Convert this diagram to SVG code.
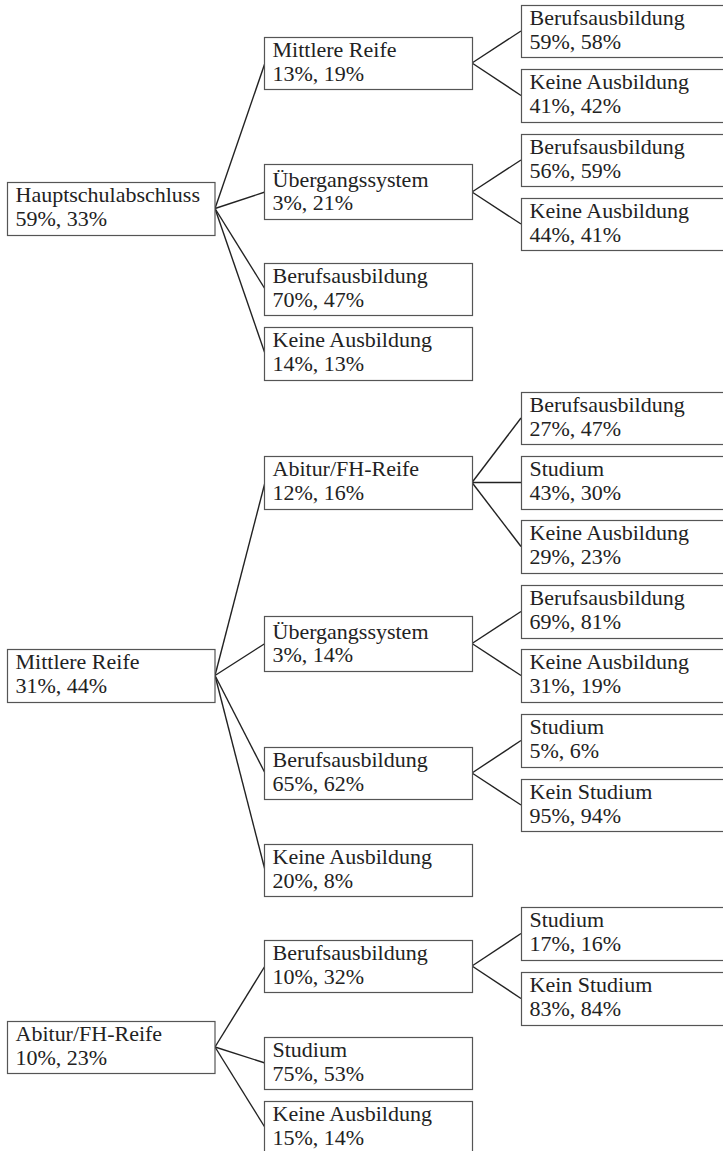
<svg xmlns="http://www.w3.org/2000/svg" width="723" height="1151" viewBox="0 0 723 1151">
<style>
  .box { fill: #ffffff; stroke: #555555; stroke-width: 1.2; }
  .t { font-family: "Liberation Serif", "Times New Roman", serif; font-size: 20px; fill: #222222; }
  .conn line { stroke: #222222; stroke-width: 1.4; }
</style>
<rect x="0" y="0" width="723" height="1151" fill="#ffffff"/>
<g id="connectors" class="conn">
  <!-- Section 1 -->
  <line x1="215" y1="208.5" x2="265" y2="63"/>
  <line x1="215" y1="208.5" x2="265" y2="192"/>
  <line x1="215" y1="208.5" x2="265" y2="289"/>
  <line x1="215" y1="208.5" x2="265" y2="353.5"/>
  <line x1="472" y1="63" x2="521" y2="31"/>
  <line x1="472" y1="63" x2="521" y2="95.5"/>
  <line x1="472" y1="192" x2="521" y2="160"/>
  <line x1="472" y1="192" x2="521" y2="224"/>
  <!-- Section 2 -->
  <line x1="215" y1="675.5" x2="265" y2="482.5"/>
  <line x1="215" y1="675.5" x2="265" y2="643.5"/>
  <line x1="215" y1="675.5" x2="265" y2="773"/>
  <line x1="215" y1="675.5" x2="265" y2="870"/>
  <line x1="472" y1="482.5" x2="521" y2="418"/>
  <line x1="472" y1="482.5" x2="521" y2="482.5"/>
  <line x1="472" y1="482.5" x2="521" y2="546.5"/>
  <line x1="472" y1="643.5" x2="521" y2="611.5"/>
  <line x1="472" y1="643.5" x2="521" y2="675.5"/>
  <line x1="472" y1="773" x2="521" y2="740.5"/>
  <line x1="472" y1="773" x2="521" y2="805"/>
  <!-- Section 3 -->
  <line x1="215" y1="1047" x2="265" y2="966"/>
  <line x1="215" y1="1047" x2="265" y2="1063"/>
  <line x1="215" y1="1047" x2="265" y2="1127.5"/>
  <line x1="472" y1="966" x2="521" y2="933.5"/>
  <line x1="472" y1="966" x2="521" y2="998.5"/>
</g>

<!-- Section 1 -->
<g id="hauptschulabschluss" transform="translate(7.5,182.5)">
  <rect class="box" x="0" y="0" width="207.5" height="53"/>
  <text class="t" transform="scale(1.1 1)"><tspan x="7.3" y="20">Hauptschulabschluss</tspan><tspan x="7.3" y="44">59%, 33%</tspan></text>
</g>
<g id="hs-mittlere-reife" transform="translate(264.5,37.5)">
  <rect class="box" x="0" y="0" width="208" height="52"/>
  <text class="t" transform="scale(1.1 1)"><tspan x="7.3" y="20">Mittlere Reife</tspan><tspan x="7.3" y="44">13%, 19%</tspan></text>
</g>
<g id="hs-mr-berufsausbildung" transform="translate(521.5,5.5)">
  <rect class="box" x="0" y="0" width="215" height="52"/>
  <text class="t" transform="scale(1.1 1)"><tspan x="7.3" y="20">Berufsausbildung</tspan><tspan x="7.3" y="44">59%, 58%</tspan></text>
</g>
<g id="hs-mr-keine-ausbildung" transform="translate(521.5,69.5)">
  <rect class="box" x="0" y="0" width="215" height="53"/>
  <text class="t" transform="scale(1.1 1)"><tspan x="7.3" y="20">Keine Ausbildung</tspan><tspan x="7.3" y="44">41%, 42%</tspan></text>
</g>
<g id="hs-uebergangssystem" transform="translate(264.5,164.5)">
  <rect class="box" x="0" y="0" width="208" height="55"/>
  <text class="t" transform="scale(1.1 1)"><tspan x="7.3" y="23">Übergangssystem</tspan><tspan x="7.3" y="46">3%, 21%</tspan></text>
</g>
<g id="hs-ue-berufsausbildung" transform="translate(521.5,134.5)">
  <rect class="box" x="0" y="0" width="215" height="52"/>
  <text class="t" transform="scale(1.1 1)"><tspan x="7.3" y="20">Berufsausbildung</tspan><tspan x="7.3" y="44">56%, 59%</tspan></text>
</g>
<g id="hs-ue-keine-ausbildung" transform="translate(521.5,198.5)">
  <rect class="box" x="0" y="0" width="215" height="52"/>
  <text class="t" transform="scale(1.1 1)"><tspan x="7.3" y="20">Keine Ausbildung</tspan><tspan x="7.3" y="44">44%, 41%</tspan></text>
</g>
<g id="hs-berufsausbildung" transform="translate(264.5,263.5)">
  <rect class="box" x="0" y="0" width="208" height="52"/>
  <text class="t" transform="scale(1.1 1)"><tspan x="7.3" y="20">Berufsausbildung</tspan><tspan x="7.3" y="44">70%, 47%</tspan></text>
</g>
<g id="hs-keine-ausbildung" transform="translate(264.5,327.5)">
  <rect class="box" x="0" y="0" width="208" height="53"/>
  <text class="t" transform="scale(1.1 1)"><tspan x="7.3" y="20">Keine Ausbildung</tspan><tspan x="7.3" y="44">14%, 13%</tspan></text>
</g>

<!-- Section 2 -->
<g id="mittlere-reife" transform="translate(7.5,649.5)">
  <rect class="box" x="0" y="0" width="207.5" height="53"/>
  <text class="t" transform="scale(1.1 1)"><tspan x="7.3" y="20">Mittlere Reife</tspan><tspan x="7.3" y="44">31%, 44%</tspan></text>
</g>
<g id="mr-abitur" transform="translate(264.5,456.5)">
  <rect class="box" x="0" y="0" width="208" height="53"/>
  <text class="t" transform="scale(1.1 1)"><tspan x="7.3" y="20">Abitur/FH-Reife</tspan><tspan x="7.3" y="44">12%, 16%</tspan></text>
</g>
<g id="mr-ab-berufsausbildung" transform="translate(521.5,392.5)">
  <rect class="box" x="0" y="0" width="215" height="52"/>
  <text class="t" transform="scale(1.1 1)"><tspan x="7.3" y="20">Berufsausbildung</tspan><tspan x="7.3" y="44">27%, 47%</tspan></text>
</g>
<g id="mr-ab-studium" transform="translate(521.5,456.5)">
  <rect class="box" x="0" y="0" width="215" height="53"/>
  <text class="t" transform="scale(1.1 1)"><tspan x="7.3" y="20">Studium</tspan><tspan x="7.3" y="44">43%, 30%</tspan></text>
</g>
<g id="mr-ab-keine-ausbildung" transform="translate(521.5,520.5)">
  <rect class="box" x="0" y="0" width="215" height="53"/>
  <text class="t" transform="scale(1.1 1)"><tspan x="7.3" y="20">Keine Ausbildung</tspan><tspan x="7.3" y="44">29%, 23%</tspan></text>
</g>
<g id="mr-uebergangssystem" transform="translate(264.5,616.5)">
  <rect class="box" x="0" y="0" width="208" height="55"/>
  <text class="t" transform="scale(1.1 1)"><tspan x="7.3" y="23">Übergangssystem</tspan><tspan x="7.3" y="46">3%, 14%</tspan></text>
</g>
<g id="mr-ue-berufsausbildung" transform="translate(521.5,585.5)">
  <rect class="box" x="0" y="0" width="215" height="53"/>
  <text class="t" transform="scale(1.1 1)"><tspan x="7.3" y="20">Berufsausbildung</tspan><tspan x="7.3" y="44">69%, 81%</tspan></text>
</g>
<g id="mr-ue-keine-ausbildung" transform="translate(521.5,649.5)">
  <rect class="box" x="0" y="0" width="215" height="53"/>
  <text class="t" transform="scale(1.1 1)"><tspan x="7.3" y="20">Keine Ausbildung</tspan><tspan x="7.3" y="44">31%, 19%</tspan></text>
</g>
<g id="mr-berufsausbildung" transform="translate(264.5,747.5)">
  <rect class="box" x="0" y="0" width="208" height="52"/>
  <text class="t" transform="scale(1.1 1)"><tspan x="7.3" y="20">Berufsausbildung</tspan><tspan x="7.3" y="44">65%, 62%</tspan></text>
</g>
<g id="mr-ba-studium" transform="translate(521.5,714.5)">
  <rect class="box" x="0" y="0" width="215" height="53"/>
  <text class="t" transform="scale(1.1 1)"><tspan x="7.3" y="20">Studium</tspan><tspan x="7.3" y="44">5%, 6%</tspan></text>
</g>
<g id="mr-ba-kein-studium" transform="translate(521.5,779.5)">
  <rect class="box" x="0" y="0" width="215" height="52"/>
  <text class="t" transform="scale(1.1 1)"><tspan x="7.3" y="20">Kein Studium</tspan><tspan x="7.3" y="44">95%, 94%</tspan></text>
</g>
<g id="mr-keine-ausbildung" transform="translate(264.5,844.5)">
  <rect class="box" x="0" y="0" width="208" height="52"/>
  <text class="t" transform="scale(1.1 1)"><tspan x="7.3" y="20">Keine Ausbildung</tspan><tspan x="7.3" y="44">20%, 8%</tspan></text>
</g>

<!-- Section 3 -->
<g id="abitur" transform="translate(7.5,1021.5)">
  <rect class="box" x="0" y="0" width="207.5" height="52"/>
  <text class="t" transform="scale(1.1 1)"><tspan x="7.3" y="20">Abitur/FH-Reife</tspan><tspan x="7.3" y="44">10%, 23%</tspan></text>
</g>
<g id="ab-berufsausbildung" transform="translate(264.5,940.5)">
  <rect class="box" x="0" y="0" width="208" height="52"/>
  <text class="t" transform="scale(1.1 1)"><tspan x="7.3" y="20">Berufsausbildung</tspan><tspan x="7.3" y="44">10%, 32%</tspan></text>
</g>
<g id="ab-ba-studium" transform="translate(521.5,907.5)">
  <rect class="box" x="0" y="0" width="215" height="53"/>
  <text class="t" transform="scale(1.1 1)"><tspan x="7.3" y="20">Studium</tspan><tspan x="7.3" y="44">17%, 16%</tspan></text>
</g>
<g id="ab-ba-kein-studium" transform="translate(521.5,972.5)">
  <rect class="box" x="0" y="0" width="215" height="53"/>
  <text class="t" transform="scale(1.1 1)"><tspan x="7.3" y="20">Kein Studium</tspan><tspan x="7.3" y="44">83%, 84%</tspan></text>
</g>
<g id="ab-studium" transform="translate(264.5,1037.5)">
  <rect class="box" x="0" y="0" width="208" height="52"/>
  <text class="t" transform="scale(1.1 1)"><tspan x="7.3" y="20">Studium</tspan><tspan x="7.3" y="44">75%, 53%</tspan></text>
</g>
<g id="ab-keine-ausbildung" transform="translate(264.5,1101.5)">
  <rect class="box" x="0" y="0" width="208" height="53"/>
  <text class="t" transform="scale(1.1 1)"><tspan x="7.3" y="20">Keine Ausbildung</tspan><tspan x="7.3" y="44">15%, 14%</tspan></text>
</g>
</svg>
